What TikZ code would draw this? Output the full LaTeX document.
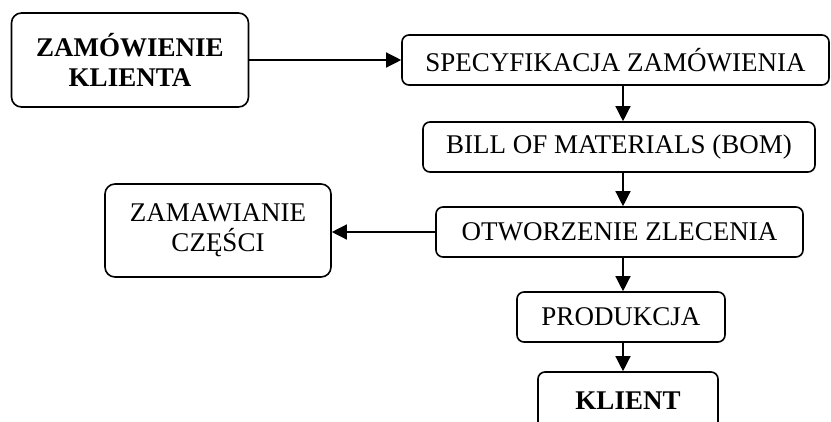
\documentclass[tikz,border=0pt]{standalone}
\usepackage{fontspec}
\setmainfont{Liberation Serif}
\usetikzlibrary{arrows.meta}
\begin{document}
\begin{tikzpicture}[x=1pt,y=-1pt,
  box/.style={draw,line width=1.6pt,rounded corners=7pt,align=center,inner sep=0pt,font=\fontsize{27}{30}\selectfont},
  conn/.style={line width=1.3pt,-{Triangle[length=15pt,width=15pt]}}]
\useasboundingbox (0,0) rectangle (831,421);
\begin{scope}
\clip (0,0) rectangle (831,421);
\node[box,rounded corners=10pt,minimum width=237pt,minimum height=94pt,font=\fontsize{27}{30}\selectfont\bfseries] (b1) at (130,60) {ZAMÓWIENIE\\KLIENTA};
\node[box,minimum width=427pt,minimum height=50pt] (b2) at (615.5,60) {SPECYFIKACJA ZAMÓWIENIA};
\node[box,minimum width=392pt,minimum height=50pt] (b3) at (619,147) {BILL OF MATERIALS (BOM)};
\node[box,minimum width=367pt,minimum height=50pt] (b4) at (619.5,232) {OTWORZENIE ZLECENIA};
\node[box,rounded corners=10pt,minimum width=226pt,minimum height=93pt] (b5) at (218,230.5) {ZAMAWIANIE\\CZĘŚCI};
\node[box,minimum width=208pt,minimum height=50pt] (b6) at (621,317) {PRODUKCJA};
\node[box,minimum width=180pt,minimum height=58pt,font=\fontsize{27}{30}\selectfont\bfseries] (b7) at (628,401) {KLIENT};
\coordinate (ax) at (623,0);
\draw[conn] (b1.east) -- (b2.west |- b1.east);
\draw[conn] (b2.south -| ax) -- (b3.north -| ax);
\draw[conn] (b3.south -| ax) -- (b4.north -| ax);
\draw[conn] (b4.west) -- (b5.east |- b4.west);
\draw[conn] (b4.south -| ax) -- (b6.north -| ax);
\draw[conn] (b6.south -| ax) -- (b7.north -| ax);
\end{scope}
\end{tikzpicture}
\end{document}
